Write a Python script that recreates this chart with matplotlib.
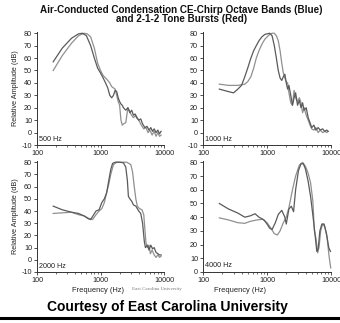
import matplotlib
matplotlib.use("Agg")
import matplotlib.pyplot as plt
from matplotlib.ticker import FixedLocator, FixedFormatter, LogLocator, NullFormatter

plt.rcParams['font.family'] = ['Liberation Sans', 'DejaVu Sans']
plt.rcParams['axes.unicode_minus'] = False

# ---- data ----
f500_a = [180, 250, 350, 450, 520, 600, 700, 800, 900, 1000, 1100, 1200, 1300, 1400, 1500, 1600, 1700, 1800,
          1900, 2000, 2100, 2200, 2300, 2500, 2700, 2900, 3100, 3300, 3500, 3700, 4000, 4300, 4600, 5000, 5400,
          5800, 6200, 6600, 7000, 7500, 8000, 8500, 9000]
d500_a = [57, 68, 76, 79.5, 80, 78, 70, 60, 52, 48, 44, 40, 36, 30, 28, 30, 34, 33,
          28, 25, 23, 22, 20, 18, 20, 16, 18, 14, 15, 12, 10, 11, 7, 4, 5,
          2, 4, 1, 3, 0, 2, -1, 1]
f500_b = [180, 250, 350, 450, 550, 620, 700, 800, 900, 1000, 1100, 1200, 1300, 1400, 1500, 1600, 1700, 1800,
          1900, 2000, 2100, 2200, 2300, 2500, 2700, 3000, 3300, 3600, 4000, 4400, 4800, 5200, 5600, 6000,
          6500, 7000, 7500, 8000, 8500, 9000]
d500_b = [50, 62, 72, 78, 80, 79.5, 77, 68, 56, 50, 46, 44, 42, 40, 37, 36, 35, 30,
          25, 22, 10, 6, 7, 8, 20, 15, 12, 14, 10, 6, 3, 4, 0, 2,
          -2, 1, -3, 0, -3, -2]

f1000_a = [180, 250, 300, 350, 400, 450, 500, 560, 620, 680, 750, 830, 920, 1000, 1100, 1200, 1300, 1400,
           1500, 1600, 1700, 1800, 1900, 2000, 2100, 2200, 2350, 2500, 2650, 2800, 3000, 3200, 3400, 3600,
           3800, 4100, 4400, 4700, 5000, 5400, 5800, 6300, 6800, 7400, 8000, 8600, 9000]
d1000_a = [35, 33, 32, 35, 38, 45, 52, 60, 66, 70, 74, 77, 79, 79.5, 80, 78, 70, 60,
           50, 44, 42, 45, 47, 40, 35, 38, 30, 22, 28, 32, 22, 26, 20, 24,
           18, 20, 12, 8, 4, 6, 2, 4, 2, 3, 1, 2, 1]
f1000_b = [180, 250, 300, 350, 400, 450, 500, 560, 620, 680, 750, 830, 920, 1000, 1100, 1200, 1300, 1400,
           1500, 1600, 1700, 1800, 1900, 2000, 2100, 2200, 2350, 2500, 2650, 2800, 3000, 3200, 3400, 3600,
           3800, 4100, 4400, 4700, 5000, 5400, 5800, 6300, 6800, 7400, 8000, 8600, 9000]
d1000_b = [39, 38, 38, 38, 38.5, 39, 41, 45, 52, 60, 66, 71, 75, 77, 79, 80, 80, 78,
           74, 66, 56, 48, 44, 41, 40, 32, 24, 22, 34, 28, 25, 28, 24, 16,
           20, 14, 10, 6, 3, 2, 4, 0, 2, 0, 1, 0, 1]

f2000_a = [180, 250, 350, 450, 550, 650, 700, 760, 850, 950, 1050, 1150, 1250, 1350, 1450, 1550, 1700, 2000,
           2300, 2500, 2650, 2750, 2900, 3100, 3300, 3600, 4000, 4300, 4600, 4900, 5100, 5500, 5800, 6200,
           6600, 7000, 7500, 8000, 8500, 9000]
d2000_a = [44, 41, 39, 38, 36, 33.5, 33, 36, 40, 41, 47, 50, 55, 65, 74, 79, 80, 80,
           79.5, 76, 65, 52, 50, 48, 45, 44, 40, 38, 30, 15, 10, 12, 8, 12,
           9, 10, 6, 5, 4, 4]
f2000_b = [180, 250, 350, 450, 550, 650, 750, 850, 950, 1050, 1150, 1250, 1350, 1450, 1600, 1800, 2200, 2600,
           3000, 3200, 3400, 3600, 3800, 4100, 4500, 4800, 5000, 5200, 5500, 5800, 6100, 6500, 7000, 7500,
           8000, 8500, 9000]
d2000_b = [38, 38.5, 39, 37, 36, 34, 33, 37, 40, 42, 47, 55, 62, 70, 78, 80, 80, 80,
           78, 72, 60, 50, 44, 42, 41, 37, 25, 14, 10, 12, 5, 8, 4, 2,
           4, 2, 3]

f4000_a = [180, 250, 350, 450, 550, 650, 750, 900, 1000, 1100, 1200, 1350, 1500, 1700, 1900, 2000, 2200, 2400,
           2600, 2800, 3100, 3400, 3700, 4000, 4400, 4800, 5100, 5400, 5700, 6000, 6300, 6700, 7200, 7800,
           8500, 9200, 9800]
d4000_a = [50, 46, 43, 40, 41, 42.5, 40, 38, 35, 32, 31, 36, 42, 45, 40, 35, 46, 48,
           44, 60, 74, 79, 79, 75, 66, 55, 45, 35, 25, 15, 17, 30, 35, 35,
           28, 18, 15]
f4000_b = [180, 250, 350, 450, 550, 700, 850, 1000, 1150, 1300, 1450, 1600, 1800, 2000, 2200, 2500, 2800, 3200,
           3600, 4000, 4400, 4800, 5200, 5500, 5800, 6200, 6500, 6900, 7400, 8000, 8700, 9300, 9900]
d4000_b = [39.5, 38, 36, 35.5, 37, 38, 38.5, 36, 32, 28, 27, 30, 36, 40, 47, 60, 70, 78,
           80, 77, 72, 65, 52, 30, 25, 14, 18, 30, 35, 33, 25, 12, 3]

panels = [
    ("500 Hz", f500_a, d500_a, f500_b, d500_b, (-10, 80)),
    ("1000 Hz", f1000_a, d1000_a, f1000_b, d1000_b, (-10, 80)),
    ("2000 Hz", f2000_a, d2000_a, f2000_b, d2000_b, (-10, 80)),
    ("4000 Hz", f4000_a, d4000_a, f4000_b, d4000_b, (0, 80)),
]

W, H = 340, 323
fig = plt.figure(figsize=(W / 100, H / 100), dpi=100)

def box(x0, x1, ytop, ybot):
    return [x0 / W, 1 - ybot / H, (x1 - x0) / W, (ybot - ytop) / H]

rects = [box(37, 164, 32, 145), box(203, 331, 32, 145),
         box(37, 164, 161, 272), box(203, 331, 161, 272)]

c_dark = '#5a5a5a'
c_light = '#909090'
tick_fs = 5.2

for i, ((label, fa, da, fb, db, yl), r) in enumerate(zip(panels, rects)):
    ax = fig.add_axes(r)
    ax.plot(fb, db, color=c_light, lw=0.9, clip_on=False)
    ax.plot(fa, da, color=c_dark, lw=0.9, clip_on=False)
    ax.set_xscale('log')
    ax.set_xlim(100, 10000)
    ax.set_ylim(yl[0], 81)
    yt = list(range(yl[0], 81, 10))
    ax.yaxis.set_major_locator(FixedLocator(yt))
    ax.yaxis.set_major_formatter(FixedFormatter([str(v) for v in yt]))
    ax.xaxis.set_major_locator(FixedLocator([100, 1000, 10000]))
    ax.xaxis.set_major_formatter(FixedFormatter(['100', '1000', '10000']))
    ax.xaxis.set_minor_locator(LogLocator(base=10, subs=range(2, 10)))
    ax.xaxis.set_minor_formatter(NullFormatter())
    for s in ['top', 'right']:
        ax.spines[s].set_visible(False)
    for s in ['left', 'bottom']:
        ax.spines[s].set_linewidth(0.7)
        ax.spines[s].set_color('#333333')
    ax.tick_params(axis='both', which='major', labelsize=tick_fs, length=2.5, width=0.6,
                   pad=1, colors='#333333', labelcolor='#222222')
    ax.tick_params(axis='x', which='minor', length=1.5, width=0.5, colors='#333333')
    ax.patch.set_alpha(0)
    ax.text(0.015, 0.02 if yl[0] == -10 else 0.03, label, transform=ax.transAxes,
            fontsize=5.2, color='#222222', ha='left', va='bottom')
    if i % 2 == 0:
        ax.set_ylabel('Relative Amplitude (dB)', fontsize=5.2, color='#222222', labelpad=2)

fig.text(0.533, 0.985, 'Air-Conducted Condensation CE-Chirp Octave Bands (Blue)\nand 2-1-2 Tone Bursts (Red)',
         ha='center', va='top', fontsize=7.1, fontweight='bold', linespacing=0.95, color='#111111')

fig.text(98 / W, 1 - 290 / H, 'Frequency (Hz)', ha='center', va='center', fontsize=5.4, color='#222222')
fig.text(240 / W, 1 - 290 / H, 'Frequency (Hz)', ha='center', va='center', fontsize=5.4, color='#222222')
fig.text(157 / W, 1 - 289 / H, 'East Carolina University', ha='center', va='center',
         fontsize=3.6, color='#777777', family=['Liberation Serif', 'DejaVu Serif'])

fig.text(167 / W, 1 - 307 / H, 'Courtesy of East Carolina University', ha='center', va='center',
         fontsize=10, fontweight='bold', color='#000000')
fig.add_artist(plt.Line2D([0, 1], [1 - 318 / H, 1 - 318 / H], color='black', lw=2.2,
                          transform=fig.transFigure))

fig.savefig('out.png', dpi=100, facecolor='white')
